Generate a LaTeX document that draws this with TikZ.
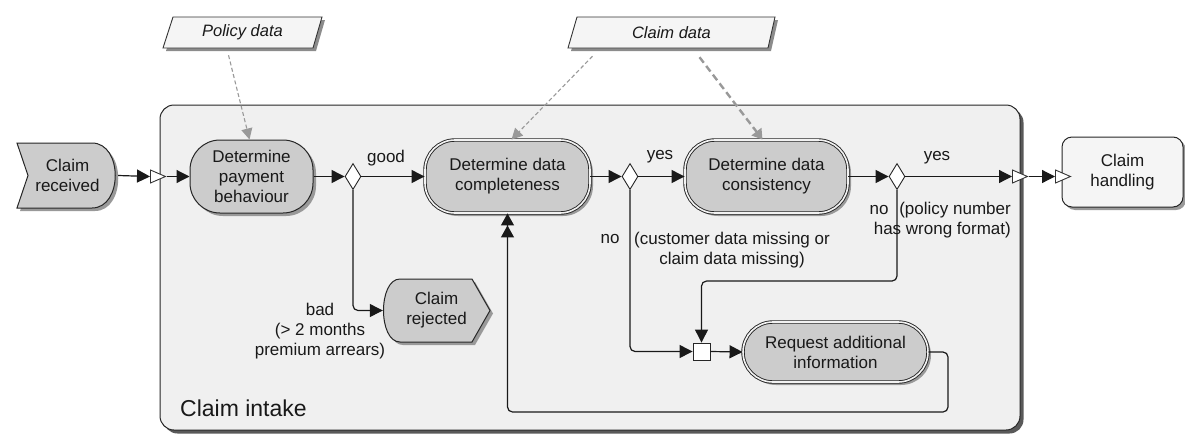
\documentclass[tikz,border=0pt]{standalone}
\usepackage{fontspec}
\setmainfont{Liberation Sans}
\usetikzlibrary{arrows.meta,shapes.geometric,shadows,calc}
\begin{document}
\begin{tikzpicture}[x=1pt,y=-1pt,
  every node/.style={font=\fontsize{17}{20}\selectfont, text=black!90},
  shd/.style={drop shadow={shadow xshift=3pt,shadow yshift=-3pt,fill=black!40,opacity=1}},
  proc/.style={draw=black!85, line width=1pt, fill=black!20, rounded corners=30pt, align=center, inner sep=0pt, shd},
  dproc/.style={proc, double=black!5, double distance=1.6pt, line width=0.9pt},
  ghost/.style={inner sep=0pt, align=center},
  gate/.style={diamond, draw=black!85, fill=white, line width=0.9pt, minimum width=16pt, minimum height=26pt, inner sep=0pt},
  iface/.style={isosceles triangle, isosceles triangle stretches, draw=black!80, fill=white, line width=0.9pt, minimum width=13pt, minimum height=15pt, inner sep=0pt},
  flow/.style={draw=black!90, line width=1.2pt, rounded corners=5pt, -{Triangle[length=13pt,width=13pt]}},
  flowtwo/.style={draw=black!90, line width=1.2pt, rounded corners=5pt, -{Triangle[length=12pt,width=13pt]Triangle[length=12pt,width=13pt]}},
  datalink/.style={draw=black!40, line width=1.1pt, dash pattern=on 4pt off 2.5pt, -{Triangle[length=11pt,width=11pt]}},
  datalinkb/.style={draw=black!40, line width=2.4pt, dash pattern=on 7pt off 4pt, -{Triangle[length=10pt,width=12pt]}},
  lbl/.style={inner sep=0pt, align=center},
  datashape/.style={draw=black!80, line width=0.9pt, fill=black!4, drop shadow={shadow xshift=3pt,shadow yshift=-3pt,fill=black!45,opacity=1}},
  evshape/.style={draw=black!85, line width=1pt, fill=black!20, shd}
]
\useasboundingbox (0,0) rectangle (1185,434);

% container
\node[draw=black!85, line width=1pt, fill=black!6, rounded corners=14pt,
      minimum width=860pt, minimum height=325pt, inner sep=0pt,
      drop shadow={shadow xshift=3.5pt,shadow yshift=-3.5pt,fill=black!65,opacity=1}] (intake) at (590,267.5) {};
\node[anchor=west, inner sep=0pt, font=\fontsize{23}{27}\selectfont] (intakelbl) at (180,408) {Claim intake};

% data objects
\path[datashape] (173,17) -- (322,17) -- (313,48) -- (163,48) -- cycle;
\node[ghost, minimum width=150pt, minimum height=31pt, font=\fontsize{16.5}{19}\selectfont\itshape] (pol) at (242.5,32.5) {Policy data};
\path[datashape] (577,17) -- (775,17) -- (768,48) -- (568,48) -- cycle;
\node[ghost, minimum width=200pt, minimum height=31pt, font=\fontsize{16.5}{19}\selectfont\itshape] (cd) at (671.5,32.5) {Claim data};

% start event
\path[evshape] (17,143) -- (92,143) .. controls (123,143) and (123,208) .. (92,208) -- (17,208) -- (28,175.5) -- cycle;
\node[ghost, minimum width=101pt, minimum height=65pt] (recv) at (67.5,175.5) {Claim\\received};

% interfaces
\node[iface, anchor=west] (ifL) at (150,176.5) {};
\node[iface, anchor=west] (ifR) at (1012,176.5) {};

% processes
\node[proc, minimum width=123pt, minimum height=73pt] (pay) at (251.5,176.5) {Determine\\payment\\behaviour};
\node[gate] (d1) at (353,176.5) {};
\node[dproc, minimum width=165pt, minimum height=73pt] (comp) at (507.5,176.5) {Determine data\\completeness};
\node[gate] (d2) at (630,176.5) {};
\node[dproc, minimum width=163pt, minimum height=73pt] (cons) at (766.5,176.5) {Determine data\\consistency};
\node[gate] (d3) at (897,176.5) {};
\node[draw=black!85, fill=white, line width=0.9pt, minimum width=17pt, minimum height=17pt, inner sep=0pt] (junc) at (701.5,351.5) {};
\node[dproc, minimum width=185pt, minimum height=60pt] (req) at (835.5,352) {Request additional\\information};

% end event
\path[evshape] (400,279) -- (472,279) -- (490,310.5) -- (472,342) -- (400,342) .. controls (378,342) and (378,279) .. (400,279) -- cycle;
\node[ghost, minimum width=107pt, minimum height=63pt] (rej) at (436.5,310.5) {Claim\\rejected};

% claim handling
\node[draw=black!85, fill=black!4, line width=1pt, rounded corners=10pt, minimum width=121pt, minimum height=70pt, align=center, inner sep=0pt, shd] (hand) at (1122.5,172) {Claim\\handling};
\node[iface, anchor=west] (ifH) at (1055,176.5) {};

% data links
\draw[datalink] ([xshift=-14pt,yshift=-7pt]pol.south) -- ([xshift=-2pt]pay.north);
\draw[datalink] ([xshift=-79pt,yshift=-8pt]cd.south) -- ([xshift=4pt]comp.north);
\draw[datalinkb] ([xshift=28pt,yshift=-9pt]cd.south) -- ([xshift=-4pt]cons.north);

% flows
\draw[flow] (recv.east) -- (ifL.west);
\draw[flow] (ifL.apex) -- (pay.west);
\draw[flow] (pay.east) -- (d1.west);
\draw[flow] (d1.east) -- (comp.west);
\draw[flow] (comp.east) -- (d2.west);
\draw[flow] (d2.east) -- (cons.west);
\draw[flow] (cons.east) -- (d3.west);
\draw[flow] (d3.east) -- (ifR.west);
\draw[flow] (ifR.apex) -- (ifH.west);
\draw[flow] (d1.south) |- (rej.west);
\draw[flow] (d2.south) |- (junc.west);
\draw[flow] (d3.south) |- ($(junc.north)+(0,-61.5)$) -- (junc.north);
\draw[flow] (junc.east) -- (req.west);
\coordinate (fb) at (948,412);
\draw[flowtwo] (req.east) -| (fb) -| (comp.south);

% labels
\node[lbl] (lgood) at (386,158) {good};
\node[lbl] (lyes1) at (660,157) {yes};
\node[lbl] (lyes2) at (937,158) {yes};
\node[lbl] (lno1) at (610,239) {no};
\node[lbl] (lmiss) at (732,250) {(customer data missing or\\claim data missing)};
\node[lbl] (lno2) at (879,210) {no};
\node[lbl, anchor=east, align=right] (lfmt) at (1011,220) {(policy number\\has wrong format)};
\node[lbl] (lbad) at (320,331) {bad\\(> 2 months\\premium arrears)};
\end{tikzpicture}
\end{document}
